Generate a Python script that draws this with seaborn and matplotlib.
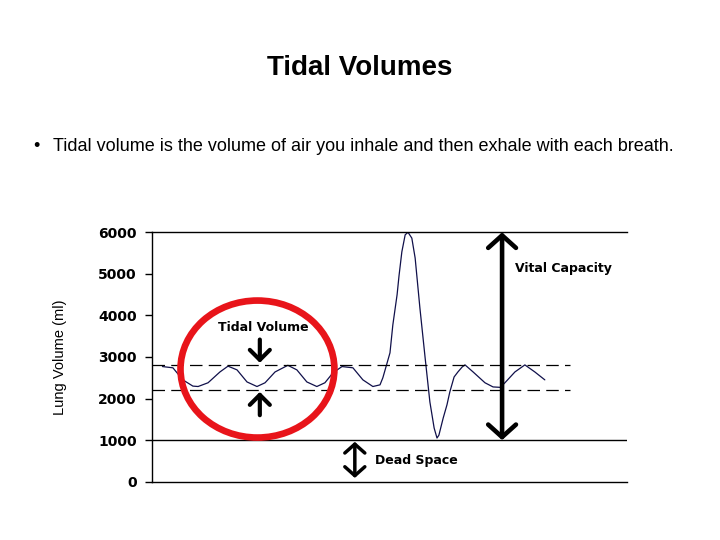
#!/usr/bin/env python3
"""Tidal volume slide: spirogram with tidal volume, vital capacity, dead space."""
import matplotlib
matplotlib.use('Agg')
import matplotlib.pyplot as plt
from matplotlib.patches import Ellipse
import pandas as pd
import seaborn as sns

# spirogram trace (time in arbitrary units, volume in ml)
time = [2.2, 4.4, 6.5, 8.6, 9.7, 11.8, 14.3, 16.0, 17.9, 20.0, 22.1, 23.8,
        25.9, 28.6, 30.5, 32.6, 34.7, 36.4, 38.1, 40.0, 42.3, 44.4, 46.5,
        48.0, 48.6, 49.5, 50.1, 50.7, 51.6, 52.0, 52.6, 53.3, 53.9, 54.7,
        55.4, 56.4, 57.5, 58.5, 59.4, 60.0, 60.4, 61.3, 62.1, 62.7, 63.6,
        64.4, 65.3, 65.9, 67.6, 70.1, 71.8, 73.3, 74.3, 76.4, 78.5, 80.6,
        82.7]
volume = [2770, 2740, 2450, 2300, 2290, 2380, 2640, 2780, 2690, 2400, 2290,
          2380, 2640, 2800, 2690, 2400, 2290, 2380, 2620, 2770, 2740, 2450,
          2290, 2330, 2500, 2860, 3100, 3770, 4500, 4950, 5530, 5940, 6000,
          5860, 5380, 4180, 2980, 1920, 1290, 1050, 1120, 1530, 1850, 2160,
          2520, 2640, 2760, 2810, 2640, 2380, 2280, 2270, 2380, 2640, 2810,
          2640, 2450]

y_ticks = [0, 1000, 2000, 3000, 4000, 5000, 6000]
tidal_top = 2800
tidal_bottom = 2200
vital_top = 6000
vital_bottom = 1000
dead_top = 960
dead_bottom = 90

df = pd.DataFrame({'time': time, 'volume': volume})

sns.set_theme(style='white')
plt.rcParams['font.family'] = ['Liberation Sans', 'DejaVu Sans']
plt.rcParams['text.color'] = 'black'
plt.rcParams['ytick.color'] = 'black'
plt.rcParams['ytick.labelcolor'] = 'black'

fig = plt.figure(figsize=(7.2, 5.4), dpi=100)
fig.text(0.5, 1 - 68 / 540, 'Tidal Volumes', ha='center', va='center',
         fontsize=20, fontweight='bold')
fig.text(33 / 720, 1 - 147 / 540, '•', ha='left', va='center', fontsize=13)
fig.text(53 / 720, 1 - 147 / 540,
         'Tidal volume is the volume of air you inhale and then exhale with each breath.',
         ha='left', va='center', fontsize=13)

ax = fig.add_axes([152 / 720, 1 - 481.7 / 540, 475 / 720, 249.4 / 540])
ax.set_xlim(0, 100)
ax.set_ylim(0, 6000)

sns.lineplot(data=df, x='time', y='volume', ax=ax, color='#10104a',
             linewidth=0.9, sort=False)

# reference lines
ax.axhline(vital_bottom, color='black', lw=1)
for lvl in (tidal_top, tidal_bottom):
    ax.plot([0, 88], [lvl, lvl], color='black', lw=0.9, dashes=(10, 5))

ax.spines['right'].set_visible(False)
for side in ('left', 'bottom', 'top'):
    ax.spines[side].set_color('black')
    ax.spines[side].set_linewidth(1)

ax.set_xticks([])
ax.set_yticks(y_ticks)
ax.set_yticklabels([str(t) for t in y_ticks], fontfamily='DejaVu Sans',
                   fontweight='bold', fontsize=10, color='black')
ax.tick_params(axis='y', left=True, length=5, width=1, color='black', pad=6)
ax.set_xlabel('')
ax.set_ylabel('')

fig.text(60 / 720, 1 - 357 / 540, 'Lung Volume (ml)', rotation=90,
         ha='center', va='center', fontsize=10.5, color='black',
         family=['Liberation Sans Narrow', 'Liberation Sans'])

# vital capacity arrow
ax.annotate('', xy=(73.7, vital_top), xytext=(73.7, vital_bottom),
            arrowprops=dict(arrowstyle='<->,head_length=0.45,head_width=0.5',
                            lw=3.3, color='black', shrinkA=0, shrinkB=0,
                            mutation_scale=20))
ax.text(76.4, 5140, 'Vital Capacity', ha='left', va='center', color='black',
        fontfamily='DejaVu Sans', fontweight='bold', fontsize=9)

# dead space arrow
ax.annotate('', xy=(42.7, dead_top), xytext=(42.7, dead_bottom),
            arrowprops=dict(arrowstyle='<->,head_length=0.4,head_width=0.45',
                            lw=2.5, color='black', shrinkA=0, shrinkB=0,
                            mutation_scale=16))
ax.text(46.9, 520, 'Dead Space', ha='left', va='center', color='black',
        fontfamily='DejaVu Sans', fontweight='bold', fontsize=9)

# tidal volume arrows
ax.annotate('', xy=(22.7, 2860), xytext=(22.7, 3420),
            arrowprops=dict(arrowstyle='->,head_length=0.45,head_width=0.45',
                            lw=3, color='black', shrinkA=0, shrinkB=0,
                            mutation_scale=16))
ax.annotate('', xy=(22.7, 2160), xytext=(22.7, 1600),
            arrowprops=dict(arrowstyle='->,head_length=0.45,head_width=0.45',
                            lw=3, color='black', shrinkA=0, shrinkB=0,
                            mutation_scale=16))
ax.text(23.4, 3700, 'Tidal Volume', ha='center', va='center', color='black',
        fontfamily='DejaVu Sans', fontweight='bold', fontsize=9)

# red circle around the tidal breaths
ax.add_patch(Ellipse((22.2, 2710), width=32.4, height=3296, fill=False,
                     edgecolor='#e8141a', lw=4.8, clip_on=False, zorder=5))

fig.savefig('out.png', dpi=100)
